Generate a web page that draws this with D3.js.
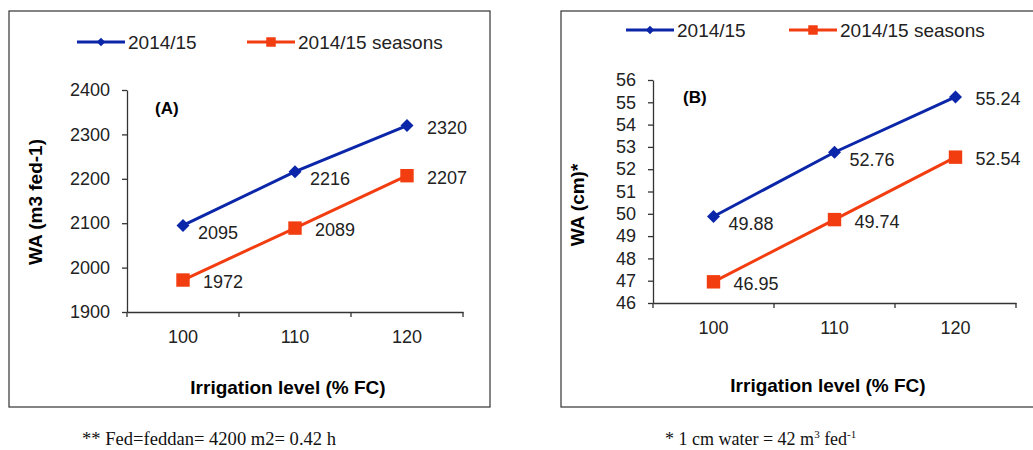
<!DOCTYPE html>
<html>
<head>
<meta charset="utf-8">
<script src="https://cdn.jsdelivr.net/npm/d3@7"></script>
<style>
  body { margin: 0; background: #fff; }
  svg text { font-family: "Liberation Sans", Arial, sans-serif; }
  .tick text { fill: #222; }
  .foot { font-family: "Liberation Serif", "Times New Roman", serif !important; fill: #111; }
</style>
</head>
<body>
<svg id="chart" width="1033" height="450"></svg>
<script>
// categories (irrigation level, % FC)
const levels = ["100", "110", "120"];
const seriesNames = ["2014/15", "2014/15 seasons"];

// panel A: WA (m3 fed-1)
const waFedBlue = [2095, 2216, 2320];
const waFedRed = [1972, 2089, 2207];
const ticksA = [1900, 2000, 2100, 2200, 2300, 2400];

// panel B: WA (cm)
const waCmBlue = [49.88, 52.76, 55.24];
const waCmRed = [46.95, 49.74, 52.54];
const ticksB = [46, 47, 48, 49, 50, 51, 52, 53, 54, 55, 56];

const blue = "#0b26a8";
const red = "#f23d10";

const svg = d3.select("#chart");

function drawPanel(p) {
  const g = svg.append("g");

  // frame
  g.append("rect")
    .attr("x", p.frame[0]).attr("y", p.frame[1])
    .attr("width", p.frame[2]).attr("height", p.frame[3])
    .attr("fill", "none").attr("stroke", "#333").attr("stroke-width", 1.2);

  const x = d3.scaleBand().domain(levels).range([p.left, p.right]).padding(0);
  const y = d3.scaleLinear().domain(p.domain).range([p.bottom, p.top]);

  // y axis
  const ya = g.append("g")
    .attr("transform", `translate(${p.left},0)`)
    .call(d3.axisLeft(y).tickValues(p.ticks).tickFormat(d3.format("d"))
      .tickSize(5).tickSizeOuter(0).tickPadding(12));
  ya.selectAll("text").style("font-size", p.tickFont + "px");
  ya.selectAll("line, path").attr("stroke", "#333").attr("stroke-width", 1.3);

  // x axis (labels at centres, ticks at band edges)
  const xa = g.append("g")
    .attr("transform", `translate(0,${p.bottom})`)
    .call(d3.axisBottom(x).tickSize(0).tickSizeOuter(0).tickPadding(18));
  xa.selectAll("text").style("font-size", p.tickFont + "px");
  xa.select(".domain").attr("stroke", "#333").attr("stroke-width", 1.3);
  const edges = levels.map(d => x(d)).concat([x(levels[levels.length - 1]) + x.bandwidth()]);
  xa.selectAll(".edge").data(edges).join("line")
    .attr("class", "edge")
    .attr("x1", d => d).attr("x2", d => d)
    .attr("y1", 0).attr("y2", 5)
    .attr("stroke", "#333").attr("stroke-width", 1.3);

  // titles
  g.append("text")
    .attr("transform", `translate(${p.yTitle[0]},${p.yTitle[1]}) rotate(-90)`)
    .attr("text-anchor", "middle").attr("dy", "0.35em")
    .style("font-size", "19px").style("font-weight", "bold")
    .text(p.yLabel);
  g.append("text")
    .attr("x", p.xTitle[0]).attr("y", p.xTitle[1])
    .attr("text-anchor", "middle")
    .style("font-size", "19px").style("font-weight", "bold")
    .text("Irrigation level (% FC)");
  g.append("text")
    .attr("x", p.tag[0]).attr("y", p.tag[1])
    .style("font-size", "17px").style("font-weight", "bold")
    .text(p.tagText);

  const line = d3.line()
    .x((d, i) => x(levels[i]) + x.bandwidth() / 2)
    .y(d => y(d));

  // diamond = square turned 45 degrees
  const series = [
    { name: seriesNames[0], values: p.blue, color: blue, rot: 45, size: 85, legSize: 36 },
    { name: seriesNames[1], values: p.red, color: red, rot: 0, size: 180, legSize: 90 }
  ];

  series.forEach((s, si) => {
    g.append("path")
      .attr("d", line(s.values))
      .attr("fill", "none")
      .attr("stroke", s.color)
      .attr("stroke-width", 3);

    g.selectAll(null).data(s.values).join("path")
      .attr("transform", (d, i) => `translate(${x(levels[i]) + x.bandwidth() / 2},${y(d)}) rotate(${s.rot})`)
      .attr("d", d3.symbol().type(d3.symbolSquare).size(s.size))
      .attr("fill", s.color);

    // value labels: blue ones sit below-right except the last, red ones to the right
    g.selectAll(null).data(s.values).join("text")
      .attr("x", (d, i) => x(levels[i]) + x.bandwidth() / 2 + (si === 0 && i < 2 ? 15 : 20))
      .attr("y", (d, i) => y(d) + (si === 0 && i < 2 ? 7 : 2))
      .attr("dy", "0.35em")
      .style("font-size", p.tickFont + "px")
      .attr("fill", "#222")
      .text(d => p.fmt(d));

    // legend
    const lx = p.legend[si];
    const lg = g.append("g").attr("transform", `translate(${lx},${p.legendY})`);
    lg.append("line").attr("x1", 0).attr("x2", 48)
      .attr("stroke", s.color).attr("stroke-width", 3);
    lg.append("path").attr("transform", `translate(24,0) rotate(${s.rot})`)
      .attr("d", d3.symbol().type(d3.symbolSquare).size(s.legSize))
      .attr("fill", s.color);
    lg.append("text").attr("x", 51).attr("dy", "0.36em")
      .style("font-size", "19px").attr("fill", "#222")
      .text(s.name);
  });
}

drawPanel({
  frame: [9, 11, 481, 396],
  left: 127, right: 463, top: 90, bottom: 312,
  domain: [1900, 2400], ticks: ticksA, tickFont: 18,
  blue: waFedBlue, red: waFedRed,
  yLabel: "WA (m3 fed-1)", yTitle: [35, 202],
  xTitle: [288, 394],
  tag: [155, 114], tagText: "(A)",
  legend: [77, 247], legendY: 42,
  fmt: d3.format("d")
});

drawPanel({
  frame: [561, 11, 490, 396],
  left: 653, right: 1016, top: 80, bottom: 303,
  domain: [46, 56], ticks: ticksB, tickFont: 18,
  blue: waCmBlue, red: waCmRed,
  yLabel: "WA (cm)*", yTitle: [577, 205],
  xTitle: [828, 392],
  tag: [683, 103], tagText: "(B)",
  legend: [626, 789], legendY: 30,
  fmt: d3.format(".2f")
});

// footnotes
svg.append("text").attr("class", "foot")
  .attr("x", 82).attr("y", 445)
  .style("font-size", "18px")
  .attr("textLength", 254).attr("lengthAdjust", "spacingAndGlyphs")
  .text("** Fed=feddan= 4200 m2= 0.42 h");

const f2 = svg.append("text").attr("class", "foot")
  .attr("x", 665).attr("y", 445)
  .style("font-size", "18px");
f2.append("tspan").text("* 1 cm water = 42 m");
f2.append("tspan").attr("dy", -7).style("font-size", "11px").text("3");
f2.append("tspan").attr("dy", 7).text(" fed");
f2.append("tspan").attr("dy", -7).style("font-size", "11px").text("-1");
</script>
</body>
</html>
